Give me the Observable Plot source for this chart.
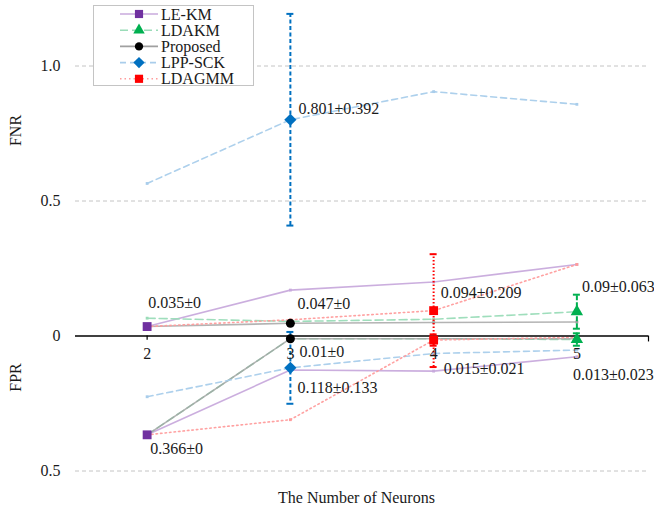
<!DOCTYPE html>
<html>
<head>
<meta charset="utf-8">
<script src="https://cdn.jsdelivr.net/npm/d3@7"></script>
<script src="https://cdn.jsdelivr.net/npm/@observablehq/plot@0.6"></script>
<style>
  html, body { margin: 0; padding: 0; background: #fff; }
  #chart { position: relative; width: 654px; height: 514px; }
</style>
</head>
<body>
<div id="chart"></div>
<script>
// ---- data ----
const neurons = [2, 3, 4, 5];
const seriesNames = ["LE-KM", "LDAKM", "Proposed", "LPP-SCK", "LDAGMM"];

const leKmFNR     = [0.035, 0.170, 0.200, 0.265];
const leKmFPR     = [0.366, 0.126, 0.130, 0.077];
const ldakmFNR    = [0.066, 0.054, 0.062, 0.090];
const ldakmFPR    = [0.366, 0.010, 0.010, 0.013];
const proposedFNR = [0.035, 0.047, 0.050, 0.052];
const proposedFPR = [0.366, 0.010, 0.010, 0.010];
const lppSckFNR   = [0.565, 0.801, 0.905, 0.858];
const lppSckFPR   = [0.225, 0.118, 0.065, 0.052];
const ldagmmFNR   = [0.035, 0.060, 0.094, 0.265];
const ldagmmFPR   = [0.366, 0.310, 0.015, 0.005];

// best setting per method (mean ± std)
const bestNeurons = [2, 5, 3, 3, 4];
const fnrMean = [0.035, 0.09, 0.047, 0.801, 0.094];
const fnrStd  = [0, 0.063, 0, 0.392, 0.209];
const fprMean = [0.366, 0.013, 0.01, 0.118, 0.015];
const fprStd  = [0, 0.023, 0, 0.133, 0.021];
const fnrLabels = ["0.035±0", "0.09±0.063", "0.047±0", "0.801±0.392", "0.094±0.209"];
const fprLabels = ["0.366±0", "0.013±0.023", "0.01±0", "0.118±0.133", "0.015±0.021"];

const yTicks = [1.0, 0.5, 0, -0.5];
const yTickLabels = ["1.0", "0.5", "0", "0.5"];

// ---- styles ----
const styles = {
  "LE-KM":    {line: "#c8aadc", mark: "#7030a0", dash: null,  symbol: "square",   r: 5.0, err: null, op: 0.95},
  "LDAKM":    {line: "#9adcb8", mark: "#00b050", dash: "8,4", symbol: "triangle", r: 4.6, err: "5,2", op: 0.95},
  "Proposed": {line: "#a0a0a0", mark: "#000000", dash: null,  symbol: "circle",   r: 4.5, err: null, op: 0.8},
  "LPP-SCK":  {line: "#a9cdeb", mark: "#0070c0", dash: "6,4", symbol: "diamond2", r: 5.5, err: "4,2.5", op: 0.95},
  "LDAGMM":   {line: "#ff9c9c", mark: "#ff0000", dash: "1.5,3", symbol: "square", r: 5.0, err: "1.5,2", op: 0.95}
};
const fnrSeries = [leKmFNR, ldakmFNR, proposedFNR, lppSckFNR, ldagmmFNR];
const fprSeries = [leKmFPR, ldakmFPR, proposedFPR, lppSckFPR, ldagmmFPR];

// ---- tables ----
const rows = [];
seriesNames.forEach((s, k) => {
  neurons.forEach((n, i) => {
    rows.push({series: s, side: "FNR", n, v: fnrSeries[k][i]});
  });
  neurons.forEach((n, i) => {
    rows.push({series: s, side: "FPR", n, v: -fprSeries[k][i]});
  });
});
const best = seriesNames.map((s, k) => ({
  series: s, n: bestNeurons[k],
  fnr: fnrMean[k], fnrLo: fnrMean[k] - fnrStd[k], fnrHi: fnrMean[k] + fnrStd[k],
  fpr: -fprMean[k], fprLo: -(fprMean[k] - fprStd[k]), fprHi: -(fprMean[k] + fprStd[k]),
  fnrStd: fnrStd[k], fprStd: fprStd[k],
  fnrLabel: fnrLabels[k], fprLabel: fprLabels[k]
}));

// annotation offsets (px) per method
const fnrOff = {"LE-KM": [1, -24], "LDAKM": [5, -25], "Proposed": [7, -19], "LPP-SCK": [8, -11], "LDAGMM": [7, -18]};
const fprOff = {"LE-KM": [3, 14], "LDAKM": [-4, 35], "Proposed": [9, 13], "LPP-SCK": [7, 20], "LDAGMM": [10, 29]};

const font = 16;
const ff = '"Liberation Serif", "Times New Roman", serif';
const marks = [];

// grid
marks.push(Plot.ruleY([1.0, 0.5, -0.5], {x1: 1.5, x2: 5.5, stroke: "#c4c4c4", strokeDasharray: "4,3", strokeWidth: 1}));

// series lines
seriesNames.forEach(s => {
  const st = styles[s];
  const data = rows.filter(d => d.series === s);
  marks.push(Plot.line(data, {x: "n", y: "v", z: "side", stroke: st.line, strokeWidth: 1.6,
    strokeDasharray: st.dash, strokeOpacity: st.op}));
  marks.push(Plot.dot(data, {x: "n", y: "v", r: 1.6, fill: st.line, symbol: "square"}));
});

// zero axis
marks.push(Plot.ruleY([0], {x1: 1.5, x2: 5.5, stroke: "#000", strokeWidth: 1.4}));
marks.push(Plot.ruleX(neurons, {x: d => d, y1: 0, y2: -0.016, stroke: "#000", strokeWidth: 1.2}));
marks.push(Plot.ruleX([5.5], {x: d => d, y1: 0, y2: -0.022, stroke: "#000", strokeWidth: 1.2}));

// error bars
best.forEach(b => {
  const st = styles[b.series];
  if (!st.err) return;
  const opts = {stroke: st.mark, strokeWidth: 2, strokeDasharray: st.err};
  const cap = {x1: "n", x2: "n", insetLeft: -3.5, insetRight: -3.5, stroke: st.mark, strokeWidth: 2};
  if (b.fnrStd > 0) {
    marks.push(Plot.ruleX([b], {x: "n", y1: "fnrLo", y2: "fnrHi", ...opts}));
    marks.push(Plot.ruleY([b], {y: "fnrLo", ...cap}));
    marks.push(Plot.ruleY([b], {y: "fnrHi", ...cap}));
  }
  if (b.fprStd > 0) {
    marks.push(Plot.ruleX([b], {x: "n", y1: "fprLo", y2: "fprHi", ...opts}));
    marks.push(Plot.ruleY([b], {y: "fprLo", ...cap}));
    marks.push(Plot.ruleY([b], {y: "fprHi", ...cap}));
  }
});

// markers
best.forEach(b => {
  const st = styles[b.series];
  marks.push(Plot.dot([b], {x: "n", y: "fnr", symbol: st.symbol, r: st.r, fill: st.mark}));
  marks.push(Plot.dot([b], {x: "n", y: "fpr", symbol: st.symbol, r: st.r, fill: st.mark}));
});

const txt = {fontSize: font, fontFamily: ff, fill: "#1a1a1a", lineAnchor: "middle"};

// annotations
best.forEach(b => {
  const [fx, fy] = fnrOff[b.series];
  const [px, py] = fprOff[b.series];
  marks.push(Plot.text([b], {x: "n", y: "fnr", text: "fnrLabel", dx: fx, dy: fy, textAnchor: "start", ...txt}));
  marks.push(Plot.text([b], {x: "n", y: "fpr", text: "fprLabel", dx: px, dy: py, textAnchor: "start", ...txt}));
});

// tick labels
marks.push(Plot.text(neurons, {x: d => d, y: 0, dy: 18, text: d => String(d), textAnchor: "middle", ...txt}));
marks.push(Plot.text(yTicks, {x: 1.5, y: d => d, dx: -15, text: (d, i) => yTickLabels[i], textAnchor: "end", ...txt}));

// axis titles
marks.push(Plot.text(["FNR"], {frameAnchor: "left", dx: 15, dy: -127, rotate: -90, text: d => d, textAnchor: "middle", ...txt}));
marks.push(Plot.text(["FPR"], {frameAnchor: "left", dx: 15, dy: 120, rotate: -90, text: d => d, textAnchor: "middle", ...txt}));
marks.push(Plot.text(["The Number of Neurons"], {frameAnchor: "bottom", dx: 29, dy: -17, text: d => d, textAnchor: "middle", ...txt}));

const chart = Plot.plot({
  width: 654,
  height: 514,
  marginTop: 0, marginBottom: 0, marginLeft: 0, marginRight: 0,
  style: {fontSize: "16px", background: "#fff"},
  x: {domain: [1.5, 5.5], range: [75, 648], axis: null},
  y: {domain: [-0.5, 1.0], range: [470.5, 65.5], axis: null},
  marks
});
document.getElementById("chart").appendChild(chart);

// ---- legend (drawn inside the SVG) ----
const svg = d3.select(chart);
const lg = svg.append("g").attr("class", "legend").attr("text-anchor", "start");
lg.append("rect").attr("x", 93.5).attr("y", 5.5).attr("width", 160).attr("height", 80)
  .attr("fill", "#fff").attr("stroke", "#c4c4c4").attr("stroke-width", 1);
const symMap = {square: d3.symbolSquare, triangle: d3.symbolTriangle, circle: d3.symbolCircle, diamond2: d3.symbolDiamond2};
seriesNames.forEach((s, i) => {
  const st = styles[s];
  const y = 14 + i * 16.2;
  lg.append("line").attr("x1", 120).attr("x2", 158).attr("y1", y).attr("y2", y)
    .attr("stroke", st.line).attr("stroke-width", 1.6).attr("stroke-dasharray", st.dash);
  lg.append("path").attr("transform", `translate(139,${y})`)
    .attr("d", d3.symbol(symMap[st.symbol], Math.PI * st.r * st.r * 0.85)())
    .attr("fill", st.mark);
  lg.append("text").attr("x", 161).attr("y", y).attr("dy", "0.35em")
    .attr("text-anchor", "start").attr("font-size", 16)
    .attr("fill", "#1a1a1a").text(s);
});
// force serif face on every text element
svg.selectAll("text").style("font-family", ff);
</script>
</body>
</html>
